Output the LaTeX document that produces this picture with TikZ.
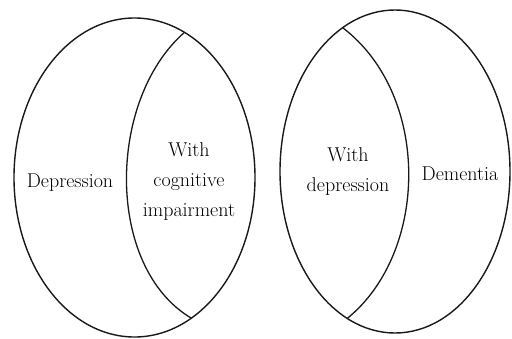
\documentclass[tikz,border=0pt]{standalone}
\usetikzlibrary{shapes.geometric}

\tikzset{
  oval/.style={draw=black!90, line width=1.4pt, ellipse, inner sep=0pt, outer sep=0pt},
  split/.style={draw=black!90, line width=1.3pt},
  label/.style={align=center, font=\fontsize{20}{30}\selectfont, inner sep=0pt, text=black}
}

\begin{document}
\begin{tikzpicture}[x=1pt, y=-1pt]
  \useasboundingbox (0,0) rectangle (512,338);
  % left oval
  \node[oval, minimum width=241pt, minimum height=319pt] (leftoval) at (134.5,177.5) {};
  \draw[split] (leftoval.71.2) .. controls (107,100) and (105,267) .. (leftoval.-68.6);
  \node[label] (depression) at (70,183) {Depression};
  \node[label] (cognitive) at (189,182) {With\\cognitive\\impairment};
  % right oval
  \node[oval, minimum width=230pt, minimum height=323pt] (rightoval) at (395,171.5) {};
  \draw[split] (rightoval.110.5) .. controls (431,95) and (429,252) .. (rightoval.-108.6);
  \node[label] (withdep) at (348,172) {With\\depression};
  \node[label] (dementia) at (460,174) {Dementia};
\end{tikzpicture}
\end{document}
